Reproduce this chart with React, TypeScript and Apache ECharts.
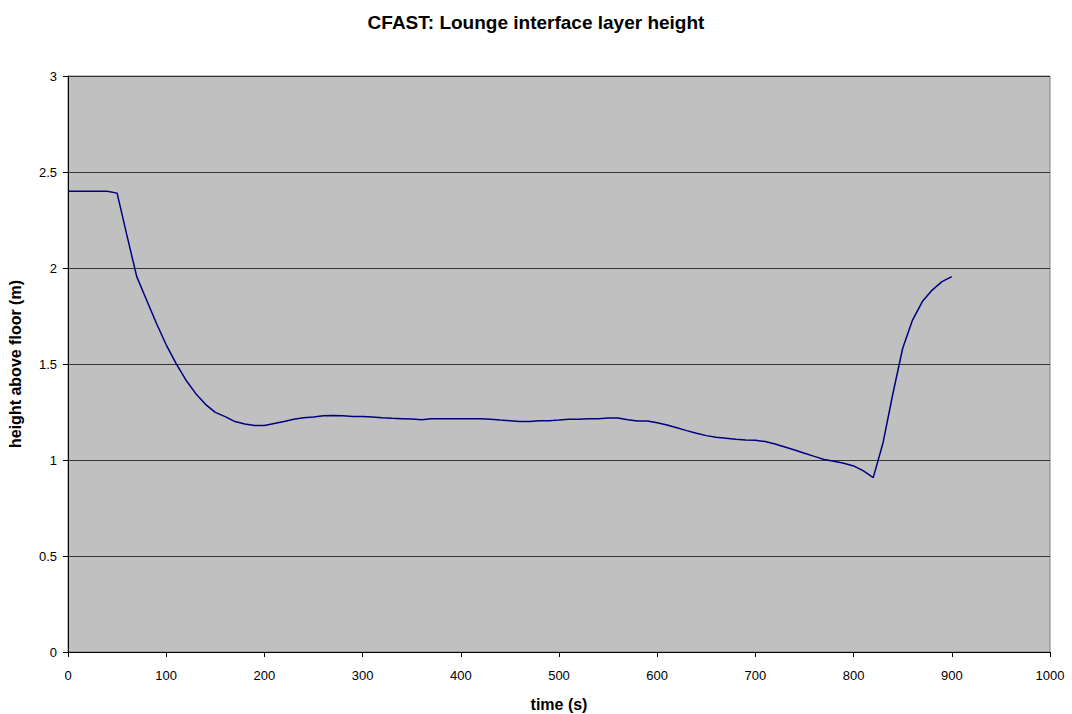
import React, { useEffect, useRef } from "react";
import * as echarts from "echarts";

const times = [0, 10, 20, 30, 40, 50, 60, 70, 80, 90, 100, 110, 120, 130, 140, 150, 160, 170, 180, 190, 200, 210, 220, 230, 240, 250, 260, 270, 280, 290, 300, 310, 320, 330, 340, 350, 360, 370, 380, 390, 400, 410, 420, 430, 440, 450, 460, 470, 480, 490, 500, 510, 520, 530, 540, 550, 560, 570, 580, 590, 600, 610, 620, 630, 640, 650, 660, 670, 680, 690, 700, 710, 720, 730, 740, 750, 760, 770, 780, 790, 800, 810, 820, 830, 840, 850, 860, 870, 880, 890, 900];
const heights = [2.4, 2.4, 2.4, 2.4, 2.4, 2.39, 2.17, 1.955, 1.833, 1.712, 1.6, 1.503, 1.417, 1.347, 1.29, 1.248, 1.226, 1.2, 1.188, 1.18, 1.18, 1.19, 1.2, 1.212, 1.22, 1.224, 1.231, 1.232, 1.231, 1.227, 1.226, 1.224, 1.22, 1.217, 1.215, 1.213, 1.21, 1.215, 1.215, 1.215, 1.215, 1.215, 1.215, 1.212, 1.208, 1.205, 1.2, 1.2, 1.205, 1.205, 1.208, 1.212, 1.212, 1.215, 1.215, 1.219, 1.219, 1.21, 1.203, 1.203, 1.194, 1.182, 1.168, 1.153, 1.139, 1.127, 1.118, 1.113, 1.108, 1.104, 1.103, 1.096, 1.083, 1.068, 1.052, 1.035, 1.019, 1.003, 0.993, 0.983, 0.969, 0.943, 0.908, 1.09, 1.345, 1.582, 1.729, 1.825, 1.885, 1.929, 1.955];

const titleText = "CFAST: Lounge interface layer height";
const xName = "time (s)";
const yName = "height above floor (m)";

export default function App() {
  const ref = useRef<HTMLDivElement>(null);
  useEffect(() => {
    if (!ref.current) return;
    const chart = echarts.init(ref.current, undefined, { renderer: "svg" });
    const font = "Arial, 'Liberation Sans', sans-serif";
    chart.setOption({
      animation: false,
      backgroundColor: "#ffffff",
      textStyle: { fontFamily: font },
      title: {
        text: titleText,
        left: "center",
        top: 8,
        textStyle: { fontFamily: font, fontSize: 19, fontWeight: "bold", color: "#000" },
      },
      grid: {
        left: 68,
        right: 22,
        top: 76,
        bottom: 62,
        outerBoundsMode: "none",
        containLabel: false,
        show: true,
        backgroundColor: "#C0C0C0",
        borderColor: "#808080",
        borderWidth: 1,
      },
      xAxis: {
        type: "value",
        min: 0,
        max: 1000,
        interval: 100,
        name: xName,
        nameLocation: "middle",
        nameGap: 44,
        nameTextStyle: { fontFamily: font, fontSize: 16, fontWeight: "bold", color: "#000" },
        axisLine: { show: true, onZero: false, lineStyle: { color: "#000", width: 1 } },
        axisTick: { show: true, length: 5, inside: false, lineStyle: { color: "#000" } },
        axisLabel: {
          fontFamily: font,
          fontSize: 13,
          color: "#000",
          margin: 17,
          formatter: (v: number) => String(v),
        },
        splitLine: { show: false },
      },
      yAxis: {
        type: "value",
        min: 0,
        max: 3,
        interval: 0.5,
        name: yName,
        nameLocation: "middle",
        nameGap: 45,
        nameTextStyle: { fontFamily: font, fontSize: 16, fontWeight: "bold", color: "#000" },
        axisLine: { show: true, lineStyle: { color: "#000", width: 1 } },
        axisTick: { show: true, length: 5, lineStyle: { color: "#000" } },
        axisLabel: { fontFamily: font, fontSize: 13, color: "#000", margin: 11 },
        splitLine: { show: true, lineStyle: { color: "#333", width: 1 } },
      },
      series: [
        {
          type: "line",
          data: times.map((t, i) => [t, heights[i]]),
          showSymbol: false,
          symbol: "none",
          lineStyle: { color: "#000080", width: 1.5 },
        },
      ],
    });
    return () => chart.dispose();
  }, []);
  return (
    <div
      ref={ref}
      style={{ position: "absolute", left: 0, top: 0, width: 1072, height: 714 }}
    />
  );
}
